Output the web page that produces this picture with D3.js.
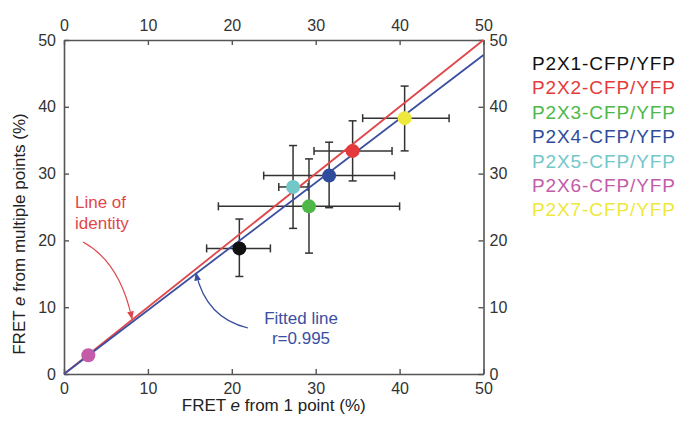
<!DOCTYPE html>
<html>
<head>
<meta charset="utf-8">
<script src="https://cdn.jsdelivr.net/npm/d3@7"></script>
<style>
  body { margin: 0; background: #fff; }
  svg { font-family: "Liberation Sans", Arial, sans-serif; }
</style>
</head>
<body>
<div id="chart_div"></div>
<script>
// data
var constructs = ['P2X1-CFP/YFP', 'P2X2-CFP/YFP', 'P2X3-CFP/YFP', 'P2X4-CFP/YFP', 'P2X5-CFP/YFP', 'P2X6-CFP/YFP', 'P2X7-CFP/YFP'];
var colors = ['#111111', '#e53a3c', '#4db848', '#2f4b9c', '#72c7c9', '#c35ba9', '#eee83c'];
var onePoint = [20.9, 34.4, 29.2, 31.6, 27.3, 2.9, 40.6];
var onePointLo = [17.0, 29.8, 18.4, 23.8, 25.6, 2.9, 35.6];
var onePointHi = [24.6, 39.1, 40.0, 39.4, 29.1, 2.9, 45.9];
var multiPoint = [18.8, 33.4, 25.1, 29.7, 28.0, 2.8, 38.3];
var multiPointLo = [14.6, 28.9, 18.1, 24.9, 21.8, 2.8, 33.4];
var multiPointHi = [23.2, 37.9, 32.2, 34.7, 34.2, 2.8, 43.1];
var tickValues = [0, 10, 20, 30, 40, 50];
var fitSlope = 0.955, fitIntercept = 0;

var width = 682, height = 427;
var margin = {top: 40, right: 198.5, bottom: 53, left: 64};
var w = width - margin.left - margin.right,
    h = height - margin.top - margin.bottom;

var x = d3.scaleLinear().domain([0, 50]).range([0, w]);
var y = d3.scaleLinear().domain([0, 50]).range([h, 0]);

var svg = d3.select('#chart_div').append('svg')
  .attr('width', width)
  .attr('height', height);

var g = svg.append('g')
  .attr('transform', 'translate(' + margin.left + ',' + margin.top + ')');

var axisColor = '#555';

// axes on all four sides, ticks pointing inward
g.append('g').attr('class', 'axis bottom')
  .attr('transform', 'translate(0,' + h + ')')
  .call(d3.axisBottom(x).tickValues(tickValues).tickSizeInner(-5).tickSizeOuter(0).tickPadding(9));
g.append('g').attr('class', 'axis top')
  .call(d3.axisTop(x).tickValues(tickValues).tickSizeInner(-5).tickSizeOuter(0).tickPadding(9));
g.append('g').attr('class', 'axis left')
  .call(d3.axisLeft(y).tickValues(tickValues).tickSizeInner(-5).tickSizeOuter(0).tickPadding(8));
g.append('g').attr('class', 'axis right')
  .attr('transform', 'translate(' + w + ',0)')
  .call(d3.axisRight(y).tickValues(tickValues).tickSizeInner(-5).tickSizeOuter(0).tickPadding(6));

g.selectAll('.axis path.domain').style('stroke', axisColor).style('stroke-width', '1.6px');
g.selectAll('.axis .tick line').style('stroke', axisColor).style('stroke-width', '1.4px');
g.selectAll('.axis text')
  .style('font-family', '"Liberation Sans", Arial, sans-serif')
  .style('font-size', '16px')
  .style('fill', '#333');

// error bars
var errColor = '#333', cap = 4;
var bars = g.append('g').attr('class', 'errorbars')
  .selectAll('g').data(d3.range(constructs.length)).enter().append('g')
  .style('stroke', errColor).style('stroke-width', '1.5px');

bars.append('line')
  .attr('x1', function(i){ return x(onePointLo[i]); })
  .attr('x2', function(i){ return x(onePointHi[i]); })
  .attr('y1', function(i){ return y(multiPoint[i]); })
  .attr('y2', function(i){ return y(multiPoint[i]); });
bars.append('line')
  .attr('x1', function(i){ return x(onePoint[i]); })
  .attr('x2', function(i){ return x(onePoint[i]); })
  .attr('y1', function(i){ return y(multiPointLo[i]); })
  .attr('y2', function(i){ return y(multiPointHi[i]); });

// caps
[onePointLo, onePointHi].forEach(function(arr){
  bars.filter(function(i){ return arr[i] !== onePoint[i]; }).append('line')
    .attr('x1', function(i){ return x(arr[i]); })
    .attr('x2', function(i){ return x(arr[i]); })
    .attr('y1', function(i){ return y(multiPoint[i]) - cap; })
    .attr('y2', function(i){ return y(multiPoint[i]) + cap; });
});
[multiPointLo, multiPointHi].forEach(function(arr){
  bars.filter(function(i){ return arr[i] !== multiPoint[i]; }).append('line')
    .attr('x1', function(i){ return x(onePoint[i]) - cap; })
    .attr('x2', function(i){ return x(onePoint[i]) + cap; })
    .attr('y1', function(i){ return y(arr[i]); })
    .attr('y2', function(i){ return y(arr[i]); });
});

// line of identity and fitted line
var identity = d3.line()
  .x(function(d){ return x(d); })
  .y(function(d){ return y(d); });
var fitted = d3.line()
  .x(function(d){ return x(d); })
  .y(function(d){ return y(fitSlope * d + fitIntercept); });

g.append('path').datum([0, 50])
  .attr('d', identity)
  .attr('fill', 'none')
  .style('stroke', '#e0474a')
  .style('stroke-width', '1.8px');
g.append('path').datum([0, 50])
  .attr('d', fitted)
  .attr('fill', 'none')
  .style('stroke', '#3a4f9f')
  .style('stroke-width', '1.8px');

// points
g.selectAll('circle.point')
  .data(d3.range(constructs.length))
  .enter().append('circle')
  .attr('class', 'point')
  .attr('cx', function(i){ return x(onePoint[i]); })
  .attr('cy', function(i){ return y(multiPoint[i]); })
  .attr('r', 7)
  .style('fill', function(i){ return colors[i]; });

// annotations
var defs = svg.append('defs');
[['arrowRed', '#e0474a'], ['arrowBlue', '#3a4f9f']].forEach(function(a){
  defs.append('marker')
    .attr('id', a[0])
    .attr('viewBox', '0 0 10 10')
    .attr('refX', 9).attr('refY', 5)
    .attr('markerWidth', 7).attr('markerHeight', 7)
    .attr('orient', 'auto')
    .append('path')
    .attr('d', 'M0,1 L10,5 L0,9 Z')
    .style('fill', a[1]);
});

svg.append('text')
  .attr('x', 75).attr('y', 208)
  .style('font-size', '17px').style('fill', '#e0474a')
  .text('Line of');
svg.append('text')
  .attr('x', 75).attr('y', 229)
  .style('font-size', '17px').style('fill', '#e0474a')
  .text('identity');
svg.append('path')
  .attr('d', 'M83,242 Q120,262 132,319')
  .attr('fill', 'none')
  .style('stroke', '#e0474a').style('stroke-width', '1.2px')
  .attr('marker-end', 'url(#arrowRed)');

svg.append('text')
  .attr('x', 301).attr('y', 324)
  .attr('text-anchor', 'middle')
  .style('font-size', '17px').style('fill', '#3a4f9f')
  .text('Fitted line');
svg.append('text')
  .attr('x', 301).attr('y', 344)
  .attr('text-anchor', 'middle')
  .style('font-size', '17px').style('fill', '#3a4f9f')
  .text('r=0.995');
svg.append('path')
  .attr('d', 'M248,328 Q206,318 196,273')
  .attr('fill', 'none')
  .style('stroke', '#3a4f9f').style('stroke-width', '1.2px')
  .attr('marker-end', 'url(#arrowBlue)');

// axis titles
var xTitle = svg.append('text')
  .attr('x', margin.left + w / 2).attr('y', 411)
  .attr('text-anchor', 'middle')
  .style('font-size', '17px').style('fill', '#222');
xTitle.append('tspan').text('FRET ');
xTitle.append('tspan').style('font-style', 'italic').text('e');
xTitle.append('tspan').text(' from 1 point (%)');

var yTitle = svg.append('text')
  .attr('transform', 'translate(25,' + 234 + ') rotate(-90)')
  .attr('text-anchor', 'middle')
  .style('font-size', '17px').style('fill', '#222');
yTitle.append('tspan').text('FRET ');
yTitle.append('tspan').style('font-style', 'italic').text('e');
yTitle.append('tspan').text(' from multiple points (%)');

// legend
svg.append('g').attr('class', 'legend')
  .selectAll('text').data(constructs).enter().append('text')
  .attr('x', 532)
  .attr('y', function(d, i){ return 70 + i * 24.4; })
  .style('font-size', '19px')
  .style('letter-spacing', '0.9px')
  .style('fill', function(d, i){ return colors[i]; })
  .text(function(d){ return d; });
</script>
</body>
</html>
